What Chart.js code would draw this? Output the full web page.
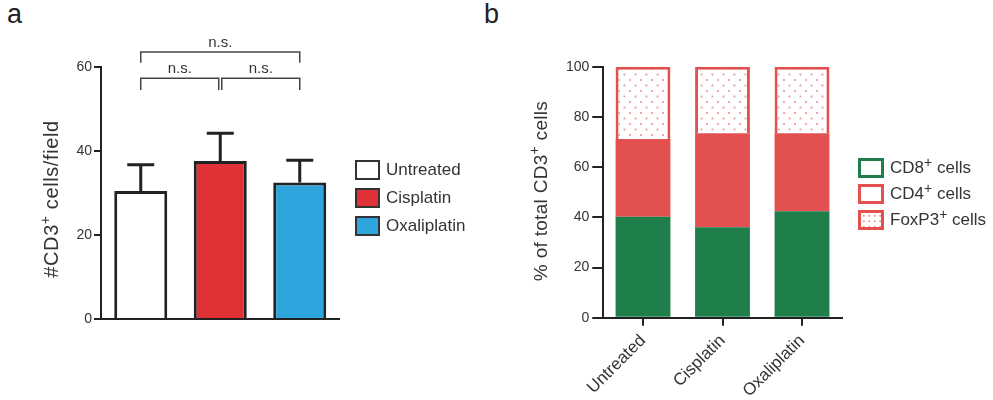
<!DOCTYPE html>
<html>
<head>
<meta charset="utf-8">
<script src="https://cdn.jsdelivr.net/npm/chart.js@4.4.1/dist/chart.umd.min.js"></script>
<style>
  body { margin: 0; background: #fff; }
  #wrap { position: relative; width: 993px; height: 400px; background: #fff; font-family: 'Liberation Sans', Arial, sans-serif; color: #333; }
  canvas { position: absolute; top: 0; }
  .panel { position: absolute; top: 1px; font-size: 27px; line-height: 27px; color: #222; }
  .legend { position: absolute; font-size: 17px; }
  .legend .row { display: flex; align-items: center; }
  .legend .box { box-sizing: border-box; flex: none; }
  .legend sup { font-size: 14px; vertical-align: 6px; line-height: 0; }
</style>
</head>
<body>
<div id="wrap">
  <div class="panel" style="left:7px">a</div>
  <div class="panel" style="left:484px">b</div>
  <canvas id="cellsChart" width="495" height="400" style="left:0"></canvas>
  <canvas id="subsetChart" width="498" height="400" style="left:495px"></canvas>
  <div class="legend" id="legendA" style="left:355px;top:160px"></div>
  <div class="legend" id="legendB" style="left:858px;top:158px"></div>
</div>
<script>
// panel a - CD3+ cells per field
const groups = ['Untreated', 'Cisplatin', 'Oxaliplatin'];
const cellsPerField = [30.5, 37.6, 32.5];
const cellsErr = [6.2, 6.6, 5.3];
const groupColors = ['#ffffff', '#e03236', '#2fa5dd'];
const cellsTicks = [0, 20, 40, 60];

// significance brackets (n.s. for every pair)
const brackets = [
    { from: 0, to: 2, y: 63.6, tip: 61.0, label: 'n.s.', inset: [0, 0] },
    { from: 0, to: 1, y: 57.3, tip: 54.5, label: 'n.s.', inset: [0, -1.5] },
    { from: 1, to: 2, y: 57.3, tip: 54.5, label: 'n.s.', inset: [1.5, 0] }
];

// panel b - composition of CD3+ cells (%)
const subsetNames = ['CD8<sup>+</sup> cells', 'CD4<sup>+</sup> cells', 'FoxP3<sup>+</sup> cells'];
const cd8Pct = [40.2, 36.0, 42.4];
const cd4Pct = [31.0, 37.5, 31.1];
const foxp3Pct = [28.8, 26.5, 26.5];
const pctTicks = [0, 20, 40, 60, 80, 100];

const GREEN = '#1f7f4a';
const RED = '#e35050';
const INK = '#222';
const FONT = "'Liberation Sans', Arial, sans-serif";

Chart.defaults.font.family = FONT;
Chart.defaults.color = '#333';

function dotPattern() {
    const c = document.createElement('canvas');
    c.width = 11; c.height = 11;
    const g = c.getContext('2d');
    g.fillStyle = '#fff';
    g.fillRect(0, 0, 11, 11);
    g.fillStyle = 'rgba(227, 80, 80, 0.5)';
    g.fillRect(2, 2, 2, 2);
    g.fillRect(7.5, 7.5, 2, 2);
    return g.createPattern(c, 'repeat');
}

// error bars on top of each bar (mean + sem)
const errorBars = {
    id: 'errorBars',
    afterDatasetsDraw(chart) {
        const ctx = chart.ctx;
        const y = chart.scales.y;
        chart.getDatasetMeta(0).data.forEach((bar, i) => {
            const top = y.getPixelForValue(cellsPerField[i] + cellsErr[i]);
            ctx.save();
            ctx.strokeStyle = INK;
            ctx.lineWidth = 3;
            ctx.beginPath();
            ctx.moveTo(bar.x, bar.y);
            ctx.lineTo(bar.x, top);
            ctx.moveTo(bar.x - 13.5, top);
            ctx.lineTo(bar.x + 13.5, top);
            ctx.stroke();
            ctx.restore();
        });
    }
};

const sigBrackets = {
    id: 'sigBrackets',
    afterDraw(chart) {
        const ctx = chart.ctx;
        const x = chart.scales.x, y = chart.scales.y;
        brackets.forEach(b => {
            const x1 = x.getPixelForValue(b.from) + b.inset[0];
            const x2 = x.getPixelForValue(b.to) + b.inset[1];
            const yy = y.getPixelForValue(b.y);
            const yt = y.getPixelForValue(b.tip);
            ctx.save();
            ctx.strokeStyle = '#444';
            ctx.lineWidth = 1.5;
            ctx.beginPath();
            ctx.moveTo(x1, yt);
            ctx.lineTo(x1, yy);
            ctx.lineTo(x2, yy);
            ctx.lineTo(x2, yt);
            ctx.stroke();
            ctx.fillStyle = '#333';
            ctx.font = '15px ' + FONT;
            ctx.textAlign = 'center';
            ctx.textBaseline = 'alphabetic';
            ctx.fillText(b.label, (x1 + x2) / 2, yy - 5);
            ctx.restore();
        });
    }
};

// rotated y title with a real superscript "+"
const axisTitle = {
    id: 'axisTitle',
    afterDraw(chart, args, opts) {
        const ctx = chart.ctx;
        ctx.save();
        ctx.translate(opts.baseline, opts.center);
        ctx.rotate(-Math.PI / 2);
        ctx.fillStyle = '#333';
        ctx.textBaseline = 'alphabetic';
        ctx.textAlign = 'left';
        if ('letterSpacing' in ctx) ctx.letterSpacing = opts.spacing + 'px';
        let total = 0;
        opts.parts.forEach(p => {
            ctx.font = p.size + 'px ' + FONT;
            p.w = ctx.measureText(p.text).width;
            total += p.w;
        });
        let u = -total / 2;
        opts.parts.forEach(p => {
            ctx.font = p.size + 'px ' + FONT;
            ctx.fillText(p.text, u, -(p.rise || 0));
            u += p.w;
        });
        ctx.restore();
    }
};

function yAxis(max, ticks, width, tickLen, pad) {
    return {
        min: 0,
        max: max,
        afterFit: s => { s.width = width; },
        afterBuildTicks: s => { s.ticks = ticks.map(v => ({ value: v })); },
        grid: { drawOnChartArea: false, drawTicks: true, tickLength: tickLen, color: INK, lineWidth: 2 },
        border: { display: true, color: INK, width: 2 },
        ticks: { color: '#333', padding: pad, font: { size: 14 } }
    };
}

new Chart(document.querySelector('#cellsChart').getContext('2d'), {
    type: 'bar',
    data: {
        labels: groups,
        datasets: [{
            data: cellsPerField,
            backgroundColor: groupColors,
            borderColor: INK,
            borderWidth: 3,
            categoryPercentage: 1,
            barPercentage: 0.667
        }]
    },
    options: {
        responsive: false,
        animation: false,
        layout: { padding: { top: 67, right: 155.5, left: 0, bottom: 0 } },
        plugins: {
            legend: { display: false },
            tooltip: { enabled: false },
            axisTitle: {
                baseline: 58, center: 199, spacing: 0.6,
                parts: [{ text: '#CD3', size: 20 }, { text: '+', size: 14, rise: 8 }, { text: ' cells/field', size: 20 }]
            }
        },
        scales: {
            x: {
                afterFit: s => { s.height = 81; },
                grid: { display: false },
                border: { display: true, color: INK, width: 2 },
                ticks: { display: false }
            },
            y: yAxis(60, cellsTicks, 101, 7, 2)
        }
    },
    plugins: [errorBars, sigBrackets, axisTitle]
});

new Chart(document.querySelector('#subsetChart').getContext('2d'), {
    type: 'bar',
    data: {
        labels: groups,
        datasets: [{
            label: 'CD8+ cells',
            data: cd8Pct,
            backgroundColor: GREEN,
            borderWidth: 0
        }, {
            label: 'CD4+ cells',
            data: cd4Pct,
            backgroundColor: RED,
            borderWidth: 0
        }, {
            label: 'FoxP3+ cells',
            data: foxp3Pct,
            backgroundColor: dotPattern(),
            borderColor: RED,
            borderWidth: 3
        }]
    },
    options: {
        responsive: false,
        animation: false,
        datasets: { bar: { categoryPercentage: 1, barPercentage: 0.69 } },
        layout: { padding: { top: 66.7, right: 151.25, left: 0, bottom: 0 } },
        plugins: {
            legend: { display: false },
            tooltip: { enabled: false },
            axisTitle: {
                baseline: 52, center: 191, spacing: 0.3,
                parts: [{ text: '% of total CD3', size: 19 }, { text: '+', size: 14, rise: 8 }, { text: ' cells', size: 19 }]
            }
        },
        scales: {
            x: {
                stacked: true,
                afterFit: s => { s.height = 82.3; },
                grid: { offset: false, drawOnChartArea: false, drawTicks: true, tickLength: 8, color: INK, lineWidth: 2 },
                border: { display: true, color: INK, width: 2 },
                ticks: { color: '#333', minRotation: 45, maxRotation: 45, padding: 5, font: { size: 17 } }
            },
            y: Object.assign(yAxis(100, pctTicks, 108.25, 11, 3), { stacked: true })
        }
    },
    plugins: [axisTitle]
});

// legends
function buildLegend(el, items) {
    el.innerHTML = items.map(it =>
        '<div class="row" style="margin-bottom:' + it.gap + 'px">' +
        '<span class="box" style="width:' + it.w + 'px;height:20px;border:' + it.border + ';background:' + it.fill + '"></span>' +
        '<span style="margin-left:6px">' + it.text + '</span></div>'
    ).join('');
}

buildLegend(document.querySelector('#legendA'), groups.map((g, i) => ({
    text: g, w: 25, gap: 8, border: '2px solid #333', fill: groupColors[i]
})));

const dots = 'radial-gradient(circle, rgba(227,80,80,0.6) 0.9px, transparent 1.1px) 0 0/5.5px 5.5px, #fff';
buildLegend(document.querySelector('#legendB'), subsetNames.map((n, i) => ({
    text: n, w: 26, gap: 6,
    border: '3px solid ' + (i === 0 ? GREEN : RED),
    fill: i === 2 ? dots : '#fff'
})));
</script>
</body>
</html>
